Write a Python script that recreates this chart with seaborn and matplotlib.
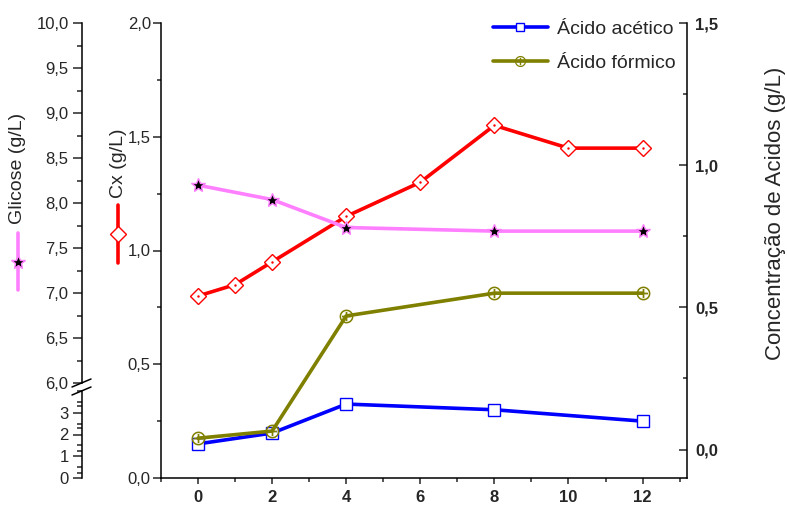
import matplotlib
matplotlib.use('Agg')
import matplotlib.pyplot as plt
from matplotlib.lines import Line2D
from matplotlib.ticker import MultipleLocator, FuncFormatter
import seaborn as sns

# tempo (h) e concentrações
tempo_cx = [0, 1, 2, 4, 6, 8, 10, 12]
cx = [0.80, 0.85, 0.95, 1.15, 1.30, 1.55, 1.45, 1.45]

tempo = [0, 2, 4, 8, 12]
glicose = [8.20, 8.04, 7.73, 7.69, 7.69]
acetico = [0.02, 0.058, 0.16, 0.14, 0.10]
formico = [0.04, 0.065, 0.47, 0.55, 0.55]

x_ticks = [0, 2, 4, 6, 8, 10, 12]
glic_low_ticks = [0, 1, 2, 3]

ROSA = '#ff80ff'
VERMELHO = '#ff0000'
AZUL = '#0000ff'
OLIVA = '#808000'

W, H = 787, 507


def fx(px):
    return px / W


def fy(py):
    return 1 - py / H


def virgula(v, pos):
    return f"{v:.1f}".replace('.', ',')


sns.set_style('ticks')
plt.rcParams['font.family'] = ['Liberation Sans', 'DejaVu Sans']
plt.rcParams['font.size'] = 12

fig = plt.figure(figsize=(W / 100, H / 100), dpi=100)
rect = [fx(161), fy(478), (687 - 161) / W, (478 - 23) / H]

ax = fig.add_axes(rect)
axg = fig.add_axes(rect, sharex=ax)
ax_acid = ax.twinx()
for a in (axg, ax_acid):
    a.patch.set_visible(False)

# --- Cx (eixo principal)
sns.lineplot(x=tempo_cx, y=cx, ax=ax, color=VERMELHO, lw=2.6,
             marker='D', markersize=8, markerfacecolor='white',
             markeredgecolor=VERMELHO, markeredgewidth=1)
ax.plot(tempo_cx, cx, ls='none', marker='.', ms=1.5, color=VERMELHO)
ax.set_xlim(-1, 13.2)
ax.set_ylim(0, 2.0)
ax.xaxis.set_major_locator(MultipleLocator(2))
ax.xaxis.set_minor_locator(MultipleLocator(1))
ax.yaxis.set_major_locator(MultipleLocator(0.5))
ax.yaxis.set_minor_locator(MultipleLocator(0.25))
ax.yaxis.set_major_formatter(FuncFormatter(virgula))
ax.set_xticks(x_ticks)
ax.set_xticklabels([str(t) for t in x_ticks], fontweight='bold')
ax.tick_params(axis='x', which='major', direction='out', length=4.5, width=1.1, pad=4)
ax.tick_params(axis='x', which='minor', direction='out', length=3, width=1.1)
ax.tick_params(axis='y', which='major', direction='out', length=5.8, width=1.1, pad=1.5)
ax.tick_params(axis='y', which='minor', direction='out', length=2.9, width=1.1)
for s in ('top', 'right'):
    ax.spines[s].set_visible(False)
for s in ('left', 'bottom'):
    ax.spines[s].set_linewidth(1.1)
    ax.spines[s].set_color('black')
ax.set_xlabel('')
ax.set_ylabel('')

# --- Glicose (eixo deslocado, parte superior)
sns.lineplot(x=tempo, y=glicose, ax=axg, color=ROSA, lw=2.6,
             marker='*', markersize=10, markerfacecolor='black',
             markeredgecolor=ROSA, markeredgewidth=1)
axg.set_ylim(6 - (478 - 383.3) / 90.15, 10)
axg.yaxis.set_major_locator(MultipleLocator(0.5))
axg.yaxis.set_minor_locator(MultipleLocator(0.25))
axg.yaxis.set_major_formatter(FuncFormatter(virgula))
axg.set_yticks([6 + 0.5 * i for i in range(9)])
axg.spines['left'].set_position(('outward', (161 - 81.7) * 0.72))
axg.spines['left'].set_bounds(6, 10)
axg.spines['left'].set_linewidth(1.1)
axg.spines['left'].set_color('black')
for s in ('top', 'right', 'bottom'):
    axg.spines[s].set_visible(False)
axg.tick_params(axis='x', which='both', bottom=False, labelbottom=False)
axg.tick_params(axis='y', which='major', direction='out', length=6.5, width=1.1, pad=3)
axg.tick_params(axis='y', which='minor', direction='out', length=3.6, width=1.1)
axg.set_xlabel('')
axg.set_ylabel('')

# --- Glicose (parte inferior, depois da quebra)
axl = fig.add_axes([fx(81.7), fy(478), 0.0001, (478 - 391) / H])
axl.patch.set_visible(False)
axl.set_ylim(0, 4.0)
axl.set_yticks(glic_low_ticks)
axl.set_yticklabels([str(t) for t in glic_low_ticks])
axl.yaxis.set_minor_locator(MultipleLocator(0.5))
axl.set_xticks([])
for s in ('top', 'right', 'bottom'):
    axl.spines[s].set_visible(False)
axl.spines['left'].set_linewidth(1.1)
axl.spines['left'].set_color('black')
axl.tick_params(axis='y', which='major', direction='out', length=6.5, width=1.1, pad=3)
axl.tick_params(axis='y', which='minor', direction='out', length=3.6, width=1.1)

# marcas de quebra
for y0 in (387, 395):
    fig.add_artist(Line2D([fx(72), fx(91)], [fy(y0), fy(y0 - 8)], color='black', lw=1.1))

# --- Ácidos (eixo direito)
sns.lineplot(x=tempo, y=acetico, ax=ax_acid, color=AZUL, lw=2.6,
             marker='s', markersize=8, markerfacecolor='white',
             markeredgecolor=AZUL, markeredgewidth=1, label='Ácido acético')
sns.lineplot(x=tempo, y=formico, ax=ax_acid, color=OLIVA, lw=2.6,
             marker=r'$\oplus$', markersize=10, markerfacecolor=OLIVA,
             markeredgecolor=OLIVA, markeredgewidth=0, label='Ácido fórmico')
ax_acid.set_ylim(-0.1, 1.5)
ax_acid.yaxis.set_major_locator(MultipleLocator(0.5))
ax_acid.yaxis.set_minor_locator(MultipleLocator(0.25))
ax_acid.yaxis.set_major_formatter(FuncFormatter(virgula))
for lab in ax_acid.get_yticklabels():
    lab.set_fontweight('bold')
ax_acid.tick_params(axis='y', which='major', direction='in', length=5.8, width=1.1, pad=6)
ax_acid.tick_params(axis='y', which='minor', direction='in', length=2.9, width=1.1)
for s in ('top', 'left', 'bottom'):
    ax_acid.spines[s].set_visible(False)
ax_acid.spines['right'].set_linewidth(1.1)
ax_acid.spines['right'].set_color('black')
ax_acid.set_ylabel('')
ax_acid.set_xlabel('')

for a in (ax, axg, ax_acid):
    if a.get_legend() is not None:
        a.get_legend().remove()

handles, labels = ax_acid.get_legend_handles_labels()
ax_acid.legend(handles, labels, loc='upper right', frameon=False, fontsize=14,
               handlelength=2.8, handletextpad=0.5, labelspacing=0.86,
               borderpad=0, borderaxespad=0, markerscale=0.8,
               bbox_to_anchor=(fx(676), fy(20)), bbox_transform=fig.transFigure)

# --- rótulos dos eixos (estilo Origin, com símbolo)
fig.text(fx(775), fy(213), 'Concentração de Acidos (g/L)', rotation=90, fontsize=16,
         ha='center', va='center')
fig.text(fx(18), fy(168), 'Glicose (g/L)', rotation=90, fontsize=14,
         ha='center', va='center')
fig.add_artist(Line2D([fx(18)] * 3, [fy(233), fy(262), fy(290)], color=ROSA, lw=2.6,
                      marker='*', markevery=[1], markersize=10, markerfacecolor='black',
                      markeredgecolor=ROSA, markeredgewidth=1))
fig.text(fx(118), fy(163), 'Cx (g/L)', rotation=90, fontsize=14,
         ha='center', va='center')
fig.add_artist(Line2D([fx(118)] * 3, [fy(205), fy(234), fy(263)], color=VERMELHO, lw=2.6,
                      marker='D', markevery=[1], markersize=8, markerfacecolor='white',
                      markeredgecolor=VERMELHO, markeredgewidth=1))

fig.savefig('out.png', dpi=100)
